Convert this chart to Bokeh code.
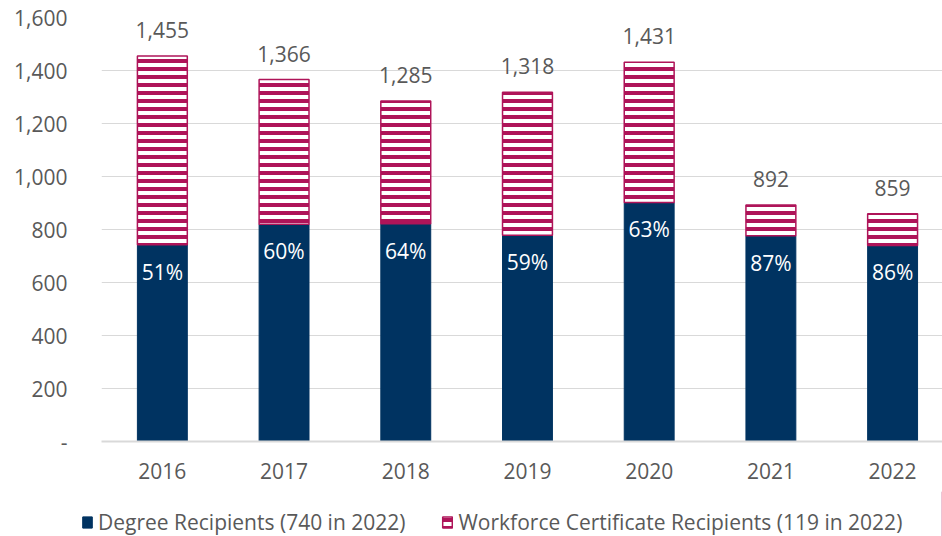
from bokeh.plotting import figure
from bokeh.layouts import column
from bokeh.models import ColumnDataSource, Range1d, FixedTicker, Legend, LegendItem, LabelSet
from bokeh.embed import file_html
from bokeh.resources import INLINE
from bokeh.core.properties import value

years = ["2016", "2017", "2018", "2019", "2020", "2021", "2022"]
degree = [742, 820, 822, 778, 902, 776, 740]
workforce = [713, 546, 463, 540, 529, 116, 119]
totals = [1455, 1366, 1285, 1318, 1431, 892, 859]
pct_labels = ["51%", "60%", "64%", "59%", "63%", "87%", "86%"]
y_ticks = [0, 200, 400, 600, 800, 1000, 1200, 1400, 1600]
y_tick_labels = ["-", "200", "400", "600", "800", "1,000", "1,200", "1,400", "1,600"]
legend_labels = ["Degree Recipients (740 in 2022)", "Workforce Certificate Recipients (119 in 2022)"]

NAVY = "#003361"
MAGENTA = "#AF1459"
GRAY = "#595959"
GRID = "#D9D9D9"
FONT = "Open Sans"

xs = list(range(len(years)))
src = ColumnDataSource(dict(
    x=xs, degree=degree, workforce=workforce, total=totals,
    total_lbl=[f"{t:,}" for t in totals], pct=pct_labels,
))

p = figure(width=942, height=491, output_backend="svg", toolbar_location=None,
           x_range=Range1d(-0.50, 6.41), y_range=Range1d(0, 1600),
           min_border_left=101, min_border_right=0, min_border_top=17, min_border_bottom=50)
p.outline_line_color = None

bw = 0.41
deg_style = dict(fill_color=NAVY, line_color=NAVY)
wf_style = dict(fill_color="white", line_color=MAGENTA, line_width=1.5,
                hatch_pattern="horizontal_line", hatch_color=MAGENTA, hatch_weight=4, hatch_scale=8)
p.vbar(x="x", top="degree", bottom=0, width=bw, source=src, **deg_style)
p.vbar(x="x", top="total", bottom="degree", width=bw, source=src, **wf_style)

p.add_layout(LabelSet(x="x", y="total", text="total_lbl", source=src, text_align="center",
                      text_baseline="middle", y_offset=26, text_color=GRAY,
                      text_font=value(FONT), text_font_size="21px"))
p.add_layout(LabelSet(x="x", y="degree", text="pct", source=src, text_align="center",
                      text_baseline="middle", y_offset=-27, text_color="white",
                      text_font=value(FONT), text_font_size="21px"))

p.xgrid.grid_line_color = None
p.ygrid.grid_line_color = GRID
p.ygrid.ticker = FixedTicker(ticks=y_ticks)

p.yaxis.ticker = FixedTicker(ticks=y_ticks)
p.yaxis.major_label_overrides = {t: l for t, l in zip(y_ticks, y_tick_labels)}
p.yaxis.axis_line_color = None
p.yaxis.major_tick_line_color = None
p.yaxis.minor_tick_line_color = None
p.yaxis.major_label_standoff = 28
p.yaxis.major_label_text_color = GRAY
p.yaxis.major_label_text_font = FONT
p.yaxis.major_label_text_font_size = "21px"

p.xaxis.ticker = FixedTicker(ticks=xs)
p.xaxis.major_label_overrides = {i: y for i, y in enumerate(years)}
p.xaxis.axis_line_color = GRID
p.xaxis.axis_line_width = 2
p.xaxis.major_tick_line_color = None
p.xaxis.minor_tick_line_color = None
p.xaxis.major_label_standoff = 15
p.xaxis.major_label_text_color = GRAY
p.xaxis.major_label_text_font = FONT
p.xaxis.major_label_text_font_size = "21px"

# legend strip below the chart
lg = figure(width=942, height=45, output_backend="svg", toolbar_location=None,
            x_range=Range1d(0, 1), y_range=Range1d(0, 1),
            x_axis_location=None, y_axis_location=None,
            min_border_left=0, min_border_right=0, min_border_top=0, min_border_bottom=0)
lg.outline_line_color = None
lg.grid.visible = False

legend_x = 0
try:
    lg.frame_align = False
    legend_x = 81
except Exception:
    legend_x = 0

d1 = lg.vbar(x=[5], top=[5], width=0.1, **deg_style)
d2 = lg.vbar(x=[5], top=[5], width=0.1, **wf_style)
legend = Legend(items=[LegendItem(label=legend_labels[0], renderers=[d1]),
                       LegendItem(label=legend_labels[1], renderers=[d2])],
                orientation="horizontal", location=(legend_x, 0),
                label_text_font=FONT, label_text_font_size="21px", label_text_color=GRAY,
                glyph_width=12, glyph_height=14, label_standoff=5, spacing=36,
                padding=0, margin=0, border_line_alpha=0, background_fill_alpha=0)
lg.add_layout(legend, "center")

layout = column(p, lg, spacing=0)
open("out.html", "w").write(file_html(layout, INLINE))
